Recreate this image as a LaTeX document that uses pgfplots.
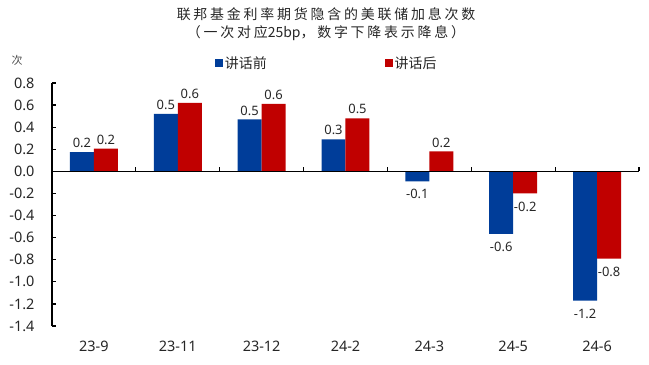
\documentclass[border=0pt]{standalone}
\usepackage{fontspec}
\setmainfont{Noto Sans}
\newfontfamily\cjk{Noto Sans CJK SC}[LetterSpace=20]
\newfontfamily\cjkl{Noto Sans CJK SC}
\usepackage{pgfplots}
\pgfplotsset{compat=1.18}
\definecolor{bblue}{RGB}{0,61,153}
\definecolor{rred}{RGB}{192,0,0}
\tikzset{lab/.style={/pgf/number format/fixed, /pgf/number format/fixed zerofill, /pgf/number format/precision=1,
    font=\fontsize{13}{14}\selectfont, text=black!85}}
\begin{document}
\begin{tikzpicture}
\useasboundingbox (-52bp,-39bp) rectangle (597bp,326bp);
\begin{axis}[
  at={(0,0)}, anchor=south west,
  scale only axis, width=587bp, height=243bp,
  xmin=-0.5, xmax=6.5, ymin=-1.4, ymax=0.8,
  clip=false,
  axis lines*=left,
  x axis line style={draw=none},
  y axis line style={line width=1.2bp, black},
  xtick={0,1,2,3,4,5,6},
  xticklabels={23-9,23-11,23-12,24-2,24-3,24-5,24-6},
  xtick style={draw=none},
  ytick={-1.4,-1.2,-1,-0.8,-0.6,-0.4,-0.2,0,0.2,0.4,0.6,0.8},
  tick align=inside, major tick length=4bp,
  ytick style={line width=1.2bp, black},
  /pgf/number format/assume math mode=true,
  y tick label style={/pgf/number format/fixed, /pgf/number format/fixed zerofill, /pgf/number format/precision=1,
    font=\fontsize{14.5}{16}\selectfont, text=black!85, xshift=-14bp},
  x tick label style={font=\fontsize{14.5}{16}\selectfont, text=black!85, yshift=-12bp},
  legend columns=2,
  legend style={at={(0.468,1.082)}, anchor=center, draw=none, fill=none,
    font=\cjkl\fontsize{14}{15}\selectfont, text=black!85,
    /tikz/every even column/.append style={column sep=116bp},
    inner sep=0pt},
  legend image code/.code={\fill[#1] (0bp,-4bp) rectangle (8bp,4bp);},
]
\addplot[ybar, bar width=0.286, bar shift=-0.143, fill=bblue, draw=none,
  nodes near coords, nodes near coords style={lab, anchor=south, inner ysep=4bp, xshift=-12bp}]
  coordinates {(0,0.175) (1,0.52) (2,0.47) (3,0.29)};
\addlegendentry{讲话前}
\addplot[ybar, bar width=0.286, bar shift=0.143, fill=rred, draw=none,
  nodes near coords, nodes near coords style={lab, anchor=south, inner ysep=4bp, xshift=12bp}]
  coordinates {(0,0.205) (1,0.62) (2,0.61) (3,0.48) (4,0.18)};
\addlegendentry{讲话后}
\addplot[ybar, bar width=0.286, bar shift=-0.143, fill=bblue, draw=none, forget plot,
  nodes near coords, nodes near coords style={lab, anchor=north, inner ysep=8bp, xshift=-12bp}]
  coordinates {(4,-0.09) (5,-0.565) (6,-1.17)};
\addplot[ybar, bar width=0.286, bar shift=0.143, fill=rred, draw=none, forget plot,
  nodes near coords, nodes near coords style={lab, anchor=north, inner ysep=8bp, xshift=12bp}]
  coordinates {(5,-0.2) (6,-0.79)};
\draw[line width=1.2bp, black] (axis cs:-0.5,0) -- (axis cs:6.5,0);
\draw[line width=1.2bp, black] (axis cs:0.5,0) -- ([yshift=4bp]axis cs:0.5,0);
\draw[line width=1.2bp, black] (axis cs:1.5,0) -- ([yshift=4bp]axis cs:1.5,0);
\draw[line width=1.2bp, black] (axis cs:2.5,0) -- ([yshift=4bp]axis cs:2.5,0);
\draw[line width=1.2bp, black] (axis cs:3.5,0) -- ([yshift=4bp]axis cs:3.5,0);
\draw[line width=1.2bp, black] (axis cs:4.5,0) -- ([yshift=4bp]axis cs:4.5,0);
\draw[line width=1.2bp, black] (axis cs:5.5,0) -- ([yshift=4bp]axis cs:5.5,0);
\draw[line width=1.2bp, black] (axis cs:6.5,0) -- ([yshift=4bp]axis cs:6.5,0);
\end{axis}
\node[text=black!70, font=\cjkl\fontsize{11}{12}\selectfont] at (-35bp,266bp) {次};
\node[text=black!85, font=\cjk\fontsize{14}{16}\selectfont] at (274bp,312bp) {联邦基金利率期货隐含的美联储加息次数};
\node[text=black!85, font=\cjk\fontsize{14}{16}\selectfont] at (274bp,293bp) {（一次对应{\cjkl 25bp}，数字下降表示降息）};
\end{tikzpicture}
\end{document}
